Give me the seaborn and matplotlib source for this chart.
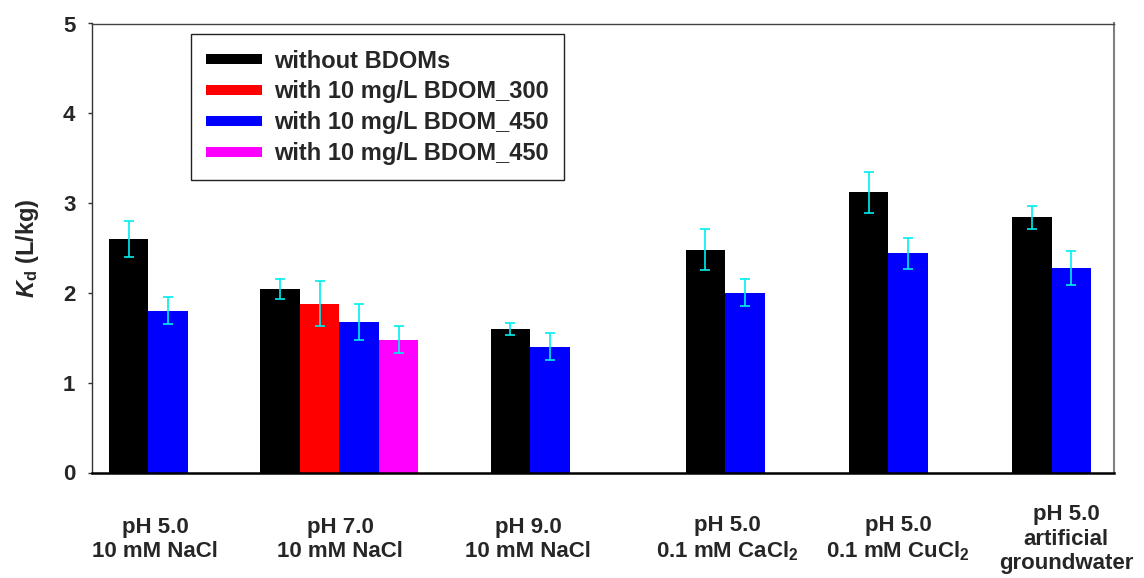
import numpy as np
import pandas as pd
import matplotlib
matplotlib.use("Agg")
import matplotlib.pyplot as plt
from matplotlib.lines import Line2D
import seaborn as sns

# ---------------- data ----------------
conditions = [
    "pH 5.0\n10 mM NaCl",
    "pH 7.0\n10 mM NaCl",
    "pH 9.0\n10 mM NaCl",
    "pH 5.0\n0.1 mM CaCl$_2$",
    "pH 5.0\n0.1 mM CuCl$_2$",
    "pH 5.0\nartificial\ngroundwater",
]
series_names = [
    "without BDOMs",
    "with 10 mg/L BDOM_300",
    "with 10 mg/L BDOM_450",
    "with 10 mg/L BDOM_450 ",
]
# NaN = not measured for that condition
kd_without = [2.60, 2.04, 1.60, 2.48, 3.12, 2.84]
kd_bdom300 = [np.nan, 1.88, np.nan, np.nan, np.nan, np.nan]
kd_bdom450 = [1.80, 1.68, 1.40, 2.00, 2.44, 2.28]
kd_bdom450b = [np.nan, 1.48, np.nan, np.nan, np.nan, np.nan]

err_without = [0.20, 0.11, 0.07, 0.23, 0.23, 0.13]
err_bdom300 = [np.nan, 0.25, np.nan, np.nan, np.nan, np.nan]
err_bdom450 = [0.15, 0.20, 0.15, 0.15, 0.17, 0.19]
err_bdom450b = [np.nan, 0.15, np.nan, np.nan, np.nan, np.nan]

colors = ["#000000", "#ff0000", "#0000ff", "#ff00ff"]

# ---------------- layout ----------------
group_centers = [56.3, 247.3, 438.0, 633.0, 796.3, 959.7]   # axis units (px-like)
label_centers = [63.0, 248.0, 436.0, 635.0, 806.0, 974.0]
bar_w = 39.5
x_span = 1022.0

plt.rcParams["mathtext.fontset"] = "custom"
plt.rcParams["mathtext.rm"] = "Liberation Sans:bold"
plt.rcParams["mathtext.bf"] = "Liberation Sans:bold"
plt.rcParams["mathtext.it"] = "Liberation Sans:italic:bold"

sns.set_style("white")
plt.rcParams["font.family"] = ["Liberation Sans", "DejaVu Sans"]
plt.rcParams["font.weight"] = "bold"

all_vals = [kd_without, kd_bdom300, kd_bdom450, kd_bdom450b]
all_errs = [err_without, err_bdom300, err_bdom450, err_bdom450b]

rows = []
for gi in range(len(conditions)):
    present = [si for si in range(len(series_names)) if not np.isnan(all_vals[si][gi])]
    n = len(present)
    for k, si in enumerate(present):
        pos = group_centers[gi] + (k - (n - 1) / 2) * bar_w
        rows.append(dict(pos=pos, kd=all_vals[si][gi], err=all_errs[si][gi],
                         series=series_names[si]))
df = pd.DataFrame(rows)

fig = plt.figure(figsize=(11.44, 5.78), dpi=100)
ax = fig.add_axes([92 / 1144, 1 - 472.5 / 578, 1022 / 1144, 449 / 578])

sns.barplot(data=df, x="pos", y="kd", hue="series", hue_order=series_names,
            palette=colors, native_scale=True, dodge=False, width=1.0,
            saturation=1, errorbar=None, legend=False, linewidth=0, ax=ax)

ax.errorbar(df["pos"], df["kd"], yerr=df["err"], fmt="none", ecolor="#00eeee",
            elinewidth=1.2, capsize=3.8, capthick=1.2, zorder=5)

ax.set_xlim(0, x_span)
ax.set_ylim(0, 5)
ax.set_yticks([0, 1, 2, 3, 4, 5])
ax.set_yticklabels(["0", "1", "2", "3", "4", "5"], fontsize=16, fontweight="bold")
ax.set_xticks(label_centers)
ax.set_xticklabels(conditions, fontsize=16, fontweight="bold", va="center")
ax.tick_params(axis="x", length=0, pad=48)
ax.tick_params(axis="y", length=3, width=1, pad=9, direction="out", left=True,
               color="#333333")
ax.set_xlabel("")
ax.set_ylabel(r"$K_{\mathrm{d}}$ (L/kg)", fontsize=17, fontweight="bold", labelpad=16)

for side, col, lw in [("left", "#333333", 1.0), ("bottom", "#000000", 1.8),
                      ("top", "#444444", 1.0), ("right", "#808080", 1.5)]:
    ax.spines[side].set_visible(True)
    ax.spines[side].set_color(col)
    ax.spines[side].set_linewidth(lw)

handles = [Line2D([0], [0], color=c, lw=7.2, solid_capstyle="butt") for c in colors]
leg = ax.legend(handles, [s.strip() for s in series_names], loc="upper left",
                bbox_to_anchor=(190.7 / 1144, 1 - 34.3 / 578),
                bbox_transform=fig.transFigure, borderaxespad=0,
                prop={"size": 17, "weight": "bold"}, frameon=True, fancybox=False,
                framealpha=1, edgecolor="#222222", borderpad=0.65,
                labelspacing=0.33, handlelength=2.37, handletextpad=0.5)
leg.get_frame().set_linewidth(1.0)

fig.savefig("out.png", dpi=100)
